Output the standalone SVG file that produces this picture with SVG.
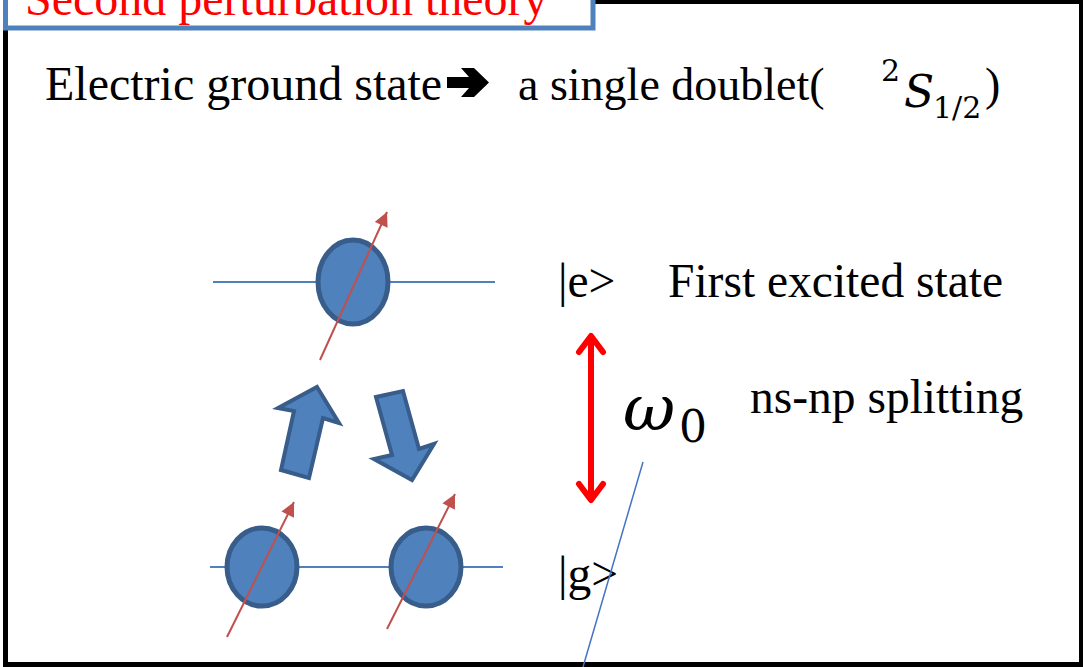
<svg xmlns="http://www.w3.org/2000/svg" width="1083" height="667" viewBox="0 0 1083 667">
<style>
.t{font-family:"Liberation Serif","Times New Roman",serif;font-size:47.5px;fill:#000}
.lvl{stroke:#4F81BD;stroke-width:2;fill:none}
.ball{fill:#4F81BD;stroke:#385D8A;stroke-width:5}
.spin{stroke:#C0504D;stroke-width:2;fill:none}
.blk{fill:#4F81BD;stroke:#385D8A;stroke-width:4;stroke-linejoin:miter}
</style>
<defs>
<marker id="spinhead" viewBox="0 0 10 10" refX="10" refY="5" markerWidth="16" markerHeight="14" orient="auto" markerUnits="userSpaceOnUse">
<path d="M0,0 L10,5 L0,10 Z" fill="#C0504D"/>
</marker>
</defs>
<rect x="0" y="0" width="1083" height="667" fill="#fff"/>
<rect x="5.5" y="1.5" width="1076" height="663" fill="none" stroke="#000" stroke-width="5"/>
<g id="title">
<rect x="5.5" y="-10" width="587.5" height="38" fill="#fff" stroke="#4F81BD" stroke-width="5"/>
<text x="25" y="15" class="t" style="fill:#FF0000;font-size:48px">Second perturbation theory</text>
</g>
<g id="headline">
<text x="45" y="100" class="t" style="font-size:48px">Electric ground state</text>
<path d="M447,77 L469,77 L461,68 L474,68 L489,82.5 L474,97 L461,97 L469,88 L447,88 Z" fill="#000"/>
<text x="518" y="100" class="t" style="font-size:46px">a single doublet(</text>
<text x="881" y="81" style="font-family:'DejaVu Serif',serif;font-size:30px">2</text>
<text x="904" y="107" style="font-family:'DejaVu Serif',serif;font-style:italic;font-size:44px">S</text>
<text x="933" y="118" style="font-family:'DejaVu Serif',serif;font-size:30px">1/2</text>
<text x="985" y="100" class="t" style="font-size:46px">)</text>
</g>
<g id="excited-level">
<line x1="213" y1="282" x2="495" y2="282" class="lvl"/>
<ellipse cx="353" cy="282" rx="35" ry="42" class="ball"/>
<line x1="320" y1="360" x2="387" y2="212" class="spin" marker-end="url(#spinhead)"/>
</g>
<g id="ground-level">
<line x1="210" y1="567" x2="503" y2="567" class="lvl"/>
<ellipse cx="262" cy="567" rx="35" ry="39" class="ball"/>
<ellipse cx="426" cy="567" rx="35" ry="39" class="ball"/>
<line x1="227" y1="637" x2="294" y2="502" class="spin" marker-end="url(#spinhead)"/>
<line x1="387" y1="629" x2="455" y2="494" class="spin" marker-end="url(#spinhead)"/>
</g>
<g id="transitions">
<polygon class="blk" points="317,387 339,423 323,418 309,478 281,470 294,411 278,408"/>
<polygon class="blk" points="376,397 403,391 419,449 434,444 412,480 374,459 392,455"/>
</g>
<g id="labels">
<text x="558" y="297" class="t">|e&gt;</text>
<text x="668" y="297" class="t">First excited state</text>
<text x="750" y="413" class="t">ns-np splitting</text>
<text x="558" y="590" class="t">|g&gt;</text>
<text x="623" y="430" style="font-family:'DejaVu Serif',serif;font-style:italic;font-size:64px">ω</text>
<text x="679" y="442" style="font-family:'DejaVu Serif',serif;font-size:44px">0</text>
</g>
<g id="connectors">
<line x1="591" y1="336" x2="591" y2="500" stroke="#FF0000" stroke-width="6"/>
<polyline points="579,352 591,336 603,352" fill="none" stroke="#FF0000" stroke-width="6" stroke-linecap="round" stroke-linejoin="round"/>
<polyline points="579,484 591,500 603,484" fill="none" stroke="#FF0000" stroke-width="6" stroke-linecap="round" stroke-linejoin="round"/>
<line x1="643" y1="462" x2="583" y2="667" stroke="#4472C4" stroke-width="1.5"/>
</g>
</svg>
